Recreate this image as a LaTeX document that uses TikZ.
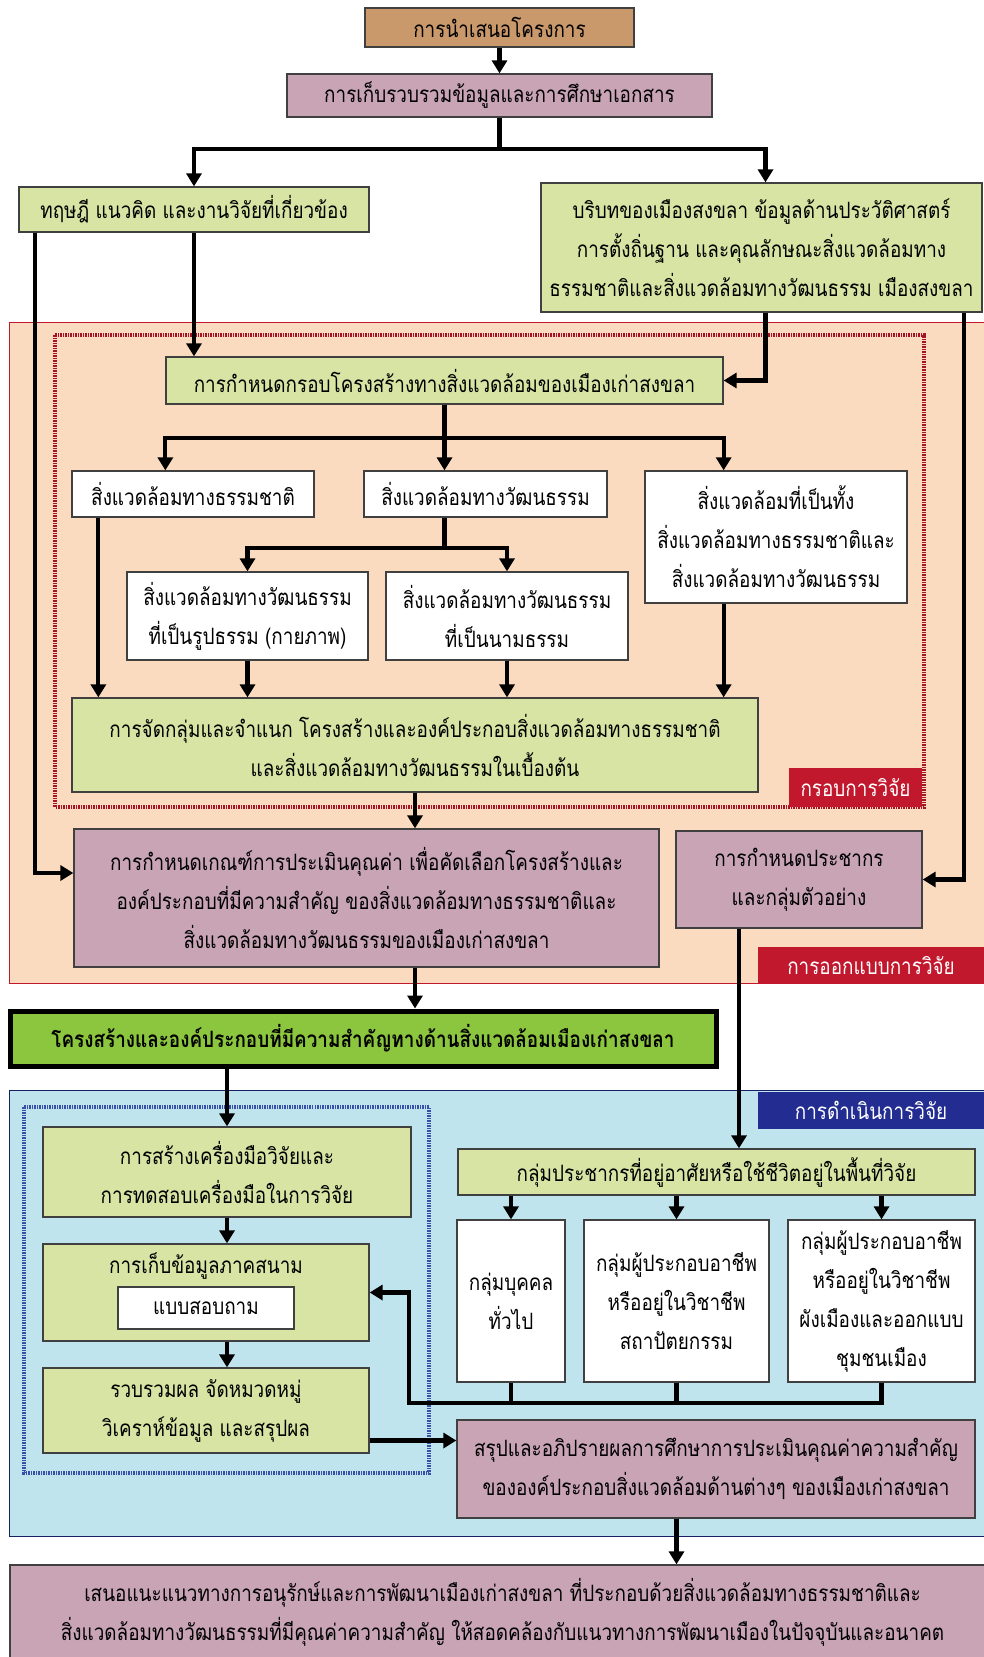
\documentclass[tikz,border=0pt]{standalone}
\usepackage{fontspec}
\setmainfont[Script=Thai,FakeStretch=0.84]{Loma}
\usetikzlibrary{arrows.meta}
\definecolor{brownbox}{HTML}{C9986B}
\definecolor{mauve}{HTML}{C8A4B4}
\definecolor{lightgreen}{HTML}{D7E4A3}
\definecolor{keygreen}{HTML}{8CC63F}
\definecolor{peach}{HTML}{FADBC0}
\definecolor{labelred}{HTML}{C1182D}
\definecolor{skyblue}{HTML}{C0E4EE}
\definecolor{labelblue}{HTML}{232D91}
\definecolor{dotblue}{HTML}{3A4FA8}

\begin{document}
\begin{tikzpicture}[x=1pt,y=-1pt,
  >={Triangle[width=15pt,length=13pt]},
  every node/.style={font=\fontsize{22.5}{39}\selectfont, align=center, inner sep=0pt},
  box/.style={draw=black!75, line width=1.3pt, fill=#1},
  line/.style={line width=4.2pt},
  tag/.style={fill=#1, text=white},
  dotframe/.style={draw=#1, line width=3.5pt, dash pattern=on 1.5pt off 1pt}]
  \useasboundingbox (0,0) rectangle (984,1657);
  \fill[white] (0,0) rectangle (984,1657);

  % background regions
  \fill[peach] (9,322) rectangle (990,983);
  \draw[labelred, line width=0.8pt] (9,322) rectangle (990,983);
  \draw[dotframe=labelred!85!black] (55,335) rectangle (924,807);
  \node[tag=labelred, minimum width=133pt, minimum height=39pt] (framelabel) at (855.5,787.5) {กรอบการวิจัย};
  \node[tag=labelred, minimum width=226pt, minimum height=37pt] (designlabel) at (871,965.5) {การออกแบบการวิจัย};

  \fill[skyblue] (9,1090) rectangle (990,1536);
  \draw[labelblue!70!black, line width=0.8pt] (9,1090) rectangle (990,1536);
  \draw[dotframe=dotblue] (24,1107) rectangle (429,1473);
  \node[tag=labelblue, minimum width=226pt, minimum height=37pt] (runlabel) at (871,1110.5) {การดำเนินการวิจัย};

  % boxes
  \node[box=brownbox, minimum width=269pt, minimum height=39pt] (present) at (499.5,27.5) {การนำเสนอโครงการ};
  \node[box=mauve, minimum width=425pt, minimum height=43pt] (collect) at (499.5,95.5) {การเก็บรวบรวมข้อมูลและการศึกษาเอกสาร};
  \node[box=lightgreen, minimum width=350pt, minimum height=45pt] (theory) at (194,209.5) {ทฤษฎี แนวคิด และงานวิจัยที่เกี่ยวข้อง};
  \node[box=lightgreen, minimum width=441pt, minimum height=129pt] (context) at (761.5,247.5)
    {บริบทของเมืองสงขลา ข้อมูลด้านประวัติศาสตร์\\การตั้งถิ่นฐาน และคุณลักษณะสิ่งแวดล้อมทาง\\ธรรมชาติและสิ่งแวดล้อมทางวัฒนธรรม เมืองสงขลา};
  \node[box=lightgreen, minimum width=557pt, minimum height=47pt] (frame) at (444.5,380.5) {การกำหนดกรอบโครงสร้างทางสิ่งแวดล้อมของเมืองเก่าสงขลา};
  \node[box=white, minimum width=242pt, minimum height=46pt] (nat) at (193,494) {สิ่งแวดล้อมทางธรรมชาติ};
  \node[box=white, minimum width=243pt, minimum height=46pt] (cul) at (485.5,494) {สิ่งแวดล้อมทางวัฒนธรรม};
  \node[box=white, minimum width=262pt, minimum height=132pt] (both) at (776,537)
    {สิ่งแวดล้อมที่เป็นทั้ง\\สิ่งแวดล้อมทางธรรมชาติและ\\สิ่งแวดล้อมทางวัฒนธรรม};
  \node[box=white, minimum width=241pt, minimum height=88pt] (tang) at (247.5,616) {สิ่งแวดล้อมทางวัฒนธรรม\\ที่เป็นรูปธรรม (กายภาพ)};
  \node[box=white, minimum width=242pt, minimum height=88pt] (intang) at (507,616) {สิ่งแวดล้อมทางวัฒนธรรม\\ที่เป็นนามธรรม};
  \node[box=lightgreen, minimum width=686pt, minimum height=94pt] (classify) at (415,745)
    {การจัดกลุ่มและจำแนก โครงสร้างและองค์ประกอบสิ่งแวดล้อมทางธรรมชาติ\\และสิ่งแวดล้อมทางวัฒนธรรมในเบื้องต้น};
  \node[box=mauve, minimum width=585pt, minimum height=138pt] (criteria) at (366.5,898)
    {การกำหนดเกณฑ์การประเมินคุณค่า เพื่อคัดเลือกโครงสร้างและ\\องค์ประกอบที่มีความสำคัญ ของสิ่งแวดล้อมทางธรรมชาติและ\\สิ่งแวดล้อมทางวัฒนธรรมของเมืองเก่าสงขลา};
  \node[box=mauve, minimum width=246pt, minimum height=97pt] (sample) at (799,879.5) {การกำหนดประชากร\\และกลุ่มตัวอย่าง};
  \node[draw=black, line width=5pt, fill=keygreen, minimum width=706pt, minimum height=55pt, font=\fontsize{22.5}{39}\selectfont\bfseries] (key) at (363,1038.5)
    {โครงสร้างและองค์ประกอบที่มีความสำคัญทางด้านสิ่งแวดล้อมเมืองเก่าสงขลา};
  \node[box=lightgreen, minimum width=368pt, minimum height=90pt] (tool) at (227,1172) {การสร้างเครื่องมือวิจัยและ\\การทดสอบเครื่องมือในการวิจัย};
  \node[box=lightgreen, minimum width=326pt, minimum height=97pt,
    label={[anchor=north, yshift=-9pt]north:การเก็บข้อมูลภาคสนาม}] (field) at (206,1292.5) {};
  \node[box=white, minimum width=176pt, minimum height=42pt] (quest) at (206,1308) {แบบสอบถาม};
  \node[box=lightgreen, minimum width=326pt, minimum height=85pt] (analyse) at (206,1410.5) {รวบรวมผล จัดหมวดหมู่\\วิเคราห์ข้อมูล และสรุปผล};
  \node[box=lightgreen, minimum width=517pt, minimum height=46pt] (popgroup) at (716.5,1172) {กลุ่มประชากรที่อยู่อาศัยหรือใช้ชีวิตอยู่ในพื้นที่วิจัย};
  \node[box=white, minimum width=108pt, minimum height=162pt] (general) at (511,1301) {กลุ่มบุคคล\\ทั่วไป};
  \node[box=white, minimum width=185pt, minimum height=162pt] (arch) at (676.5,1301) {กลุ่มผู้ประกอบอาชีพ\\หรืออยู่ในวิชาชีพ\\สถาปัตยกรรม};
  \node[box=white, minimum width=187pt, minimum height=162pt] (plan) at (881.5,1301) {กลุ่มผู้ประกอบอาชีพ\\หรืออยู่ในวิชาชีพ\\ผังเมืองและออกแบบ\\ชุมชนเมือง};
  \node[box=mauve, minimum width=518pt, minimum height=98pt] (discuss) at (716,1469)
    {สรุปและอภิปรายผลการศึกษาการประเมินคุณค่าความสำคัญ\\ขององค์ประกอบสิ่งแวดล้อมด้านต่างๆ ของเมืองเก่าสงขลา};
  \node[box=mauve, minimum width=985pt, minimum height=94pt] (final) at (502.5,1612)
    {เสนอแนะแนวทางการอนุรักษ์และการพัฒนาเมืองเก่าสงขลา ที่ประกอบด้วยสิ่งแวดล้อมทางธรรมชาติและ\\สิ่งแวดล้อมทางวัฒนธรรมที่มีคุณค่าความสำคัญ ให้สอดคล้องกับแนวทางการพัฒนาเมืองในปัจจุบันและอนาคต};

  % connectors
  \draw[line,->] (present) -- (collect);
  \draw[line,->] (collect.south) -- ++(0,31) -| (theory.north);
  \draw[line,->] (collect.south) -- ++(0,31) -| ([xshift=4pt]context.north);
  \draw[line,->] (theory.south) -- (theory.south |- frame.north);
  \draw[line,->] ([xshift=17pt]theory.south west) |- ([yshift=25pt]criteria.west);
  \draw[line,->] ([xshift=4pt]context.south) |- (frame.east);
  \draw[line,->] ([xshift=-19pt]context.south east) |- (sample.east);

  \draw[line,->] (frame.south) -- (frame.south |- cul.north);
  \draw[line,->] (frame.south) -- ++(0,33) -| (frame.west |- nat.north);
  \draw[line,->] (frame.south) -- ++(0,33) -| (frame.east |- both.north);
  \draw[line,->] (cul.south -| frame.south) -- ++(0,30) -| (tang.north);
  \draw[line,->] (cul.south -| frame.south) -- ++(0,30) -| (intang.north);

  \draw[line,->] ([xshift=27pt]nat.south west) coordinate (n1) -- (n1 |- classify.north);
  \draw[line,->] (tang.south) -- (tang.south |- classify.north);
  \draw[line,->] (intang.south) -- (intang.south |- classify.north);
  \draw[line,->] (both.south -| frame.east) -- (frame.east |- classify.north);
  \draw[line,->] (classify.south) -- (classify.south |- criteria.north);
  \draw[line,->] (criteria.south -| classify.south) -- (classify.south |- key.north);
  \draw[line,->] ([xshift=-60pt]sample.south) coordinate (s1) -- (s1 |- popgroup.north);

  \draw[line,->] (key.south -| tool.north) -- (tool.north);
  \draw[line,->] (tool.south) -- (tool.south |- field.north);
  \draw[line,->] (field.south -| tool.south) -- (tool.south |- analyse.north);
  \draw[line,->] ([yshift=-30pt]analyse.east) coordinate (a1) -- (a1 -| discuss.west);

  \draw[line,->] (popgroup.south -| general.north) -- (general.north);
  \draw[line,->] (popgroup.south -| arch.north) -- (arch.north);
  \draw[line,->] (popgroup.south -| plan.north) -- (plan.north);
  \coordinate (back) at (409,1403);
  \draw[line] (general.south) -- (general.south |- back);
  \draw[line] (arch.south) -- (arch.south |- back);
  \draw[line,->] (plan.south) |- (back) |- (field.east);
  \draw[line,->] (discuss.south -| arch.south) -- (arch.south |- final.north);
\end{tikzpicture}
\end{document}
